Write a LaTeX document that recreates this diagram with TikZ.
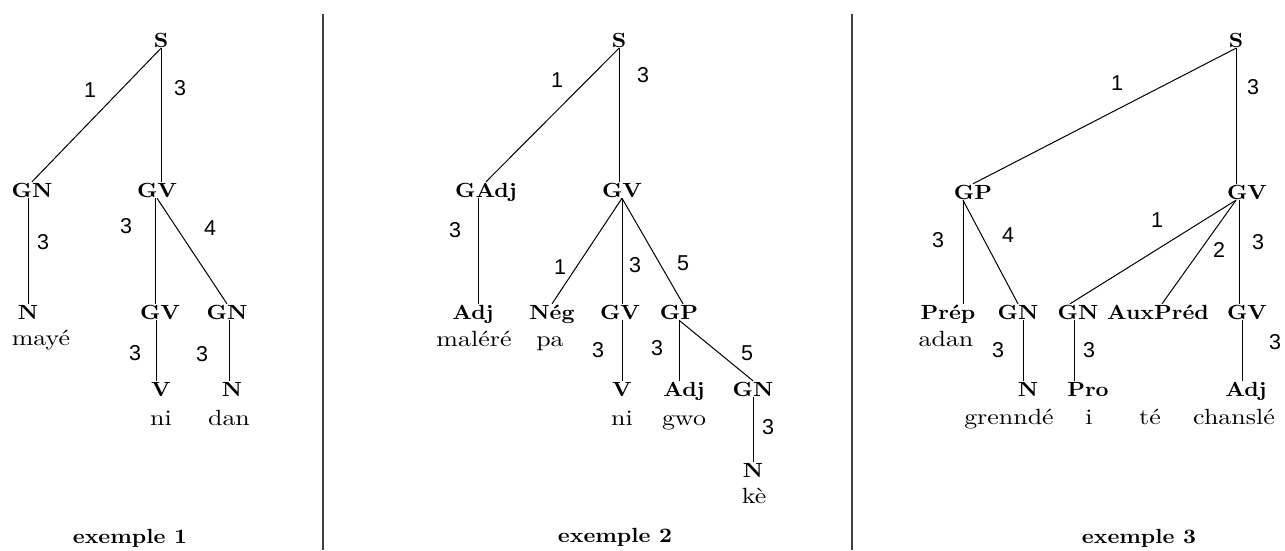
\documentclass[tikz,border=0pt]{standalone}
\usepackage{fontspec}
\newfontfamily\catfont[FakeStretch=1.1]{lmroman10-bold.otf}
\newfontfamily\wordfont[FakeStretch=1.18]{lmroman10-regular.otf}
\newfontfamily\numfont{Liberation Sans}
\usepackage{tikz}

\begin{document}
\begin{tikzpicture}[x=1pt, y=-1pt,
  cat/.style={font=\catfont\fontsize{20.5}{20.5}\selectfont, inner sep=1pt, text height=14pt, text depth=0pt},
  word/.style={font=\wordfont\fontsize{22}{22}\selectfont, inner sep=0pt, anchor=base},
  title/.style={font=\catfont\fontsize{20.5}{20.5}\selectfont, inner sep=0pt, anchor=base},
  num/.style={font=\numfont\fontsize{21.5}{21.5}\selectfont, inner sep=0pt},
  treeline/.style={black, line width=1pt},
  divider/.style={black!75, line width=1.6pt}]
\path[fill=white] (0,0) rectangle (1285,550);
\useasboundingbox (0,0) rectangle (1285,550);
\draw[divider] (323,14) -- (323,550);
\draw[divider] (852,14) -- (852,550);
\node[cat] (s1) at (161,40) {S};
\node[cat] (gn1) at (32,190) {GN};
\node[cat] (gv1) at (157,190) {GV};
\node[cat] (n1) at (28,312) {N};
\node[cat] (gv1b) at (160,312) {GV};
\node[cat] (gn1b) at (227,312) {GN};
\node[cat] (v1) at (161,389) {V};
\node[cat] (n1b) at (232,389) {N};
\node[word] (w1a) at (41,345) {mayé};
\node[word] (w1b) at (161,425) {ni};
\node[word] (w1c) at (229,425) {dan};
\node[title] (t1) at (130,543) {exemple 1};
\draw[treeline] (s1.south) -- (gn1.north);
\draw[treeline] (s1.south) -- (s1.south |- gv1.north);
\draw[treeline] (n1.north |- gn1.south) -- (n1.north);
\draw[treeline] ([xshift=-2pt]gv1.south) -- ([xshift=-2pt]gv1.south |- gv1b.north);
\draw[treeline] (gv1.south) -- (gn1b.north);
\draw[treeline] ([xshift=-4pt]gv1b.south) -- ([xshift=-4pt]gv1b.south |- v1.north);
\draw[treeline] ([xshift=2pt]gn1b.south) -- ([xshift=2pt]gn1b.south |- n1b.north);
\node[num] (l1a) at (90,90) {1};
\node[num] (l1b) at (180,88) {3};
\node[num] (l1c) at (43,242) {3};
\node[num] (l1d) at (126,226) {3};
\node[num] (l1e) at (210,228) {4};
\node[num] (l1f) at (135,353) {3};
\node[num] (l1g) at (202,354) {3};
\node[cat] (s2) at (619,40) {S};
\node[cat] (gadj2) at (486,190) {GAdj};
\node[cat] (gv2) at (622,190) {GV};
\node[cat] (adj2) at (473,312) {Adj};
\node[cat] (neg2) at (552,312) {Nég};
\node[cat] (gv2b) at (620,312) {GV};
\node[cat] (gp2) at (679,312) {GP};
\node[cat] (v2) at (622,389) {V};
\node[cat] (adj2b) at (684,389) {Adj};
\node[cat] (gn2) at (753,389) {GN};
\node[cat] (n2) at (753,470) {N};
\node[word] (w2a) at (474,346) {maléré};
\node[word] (w2b) at (550,346) {pa};
\node[word] (w2c) at (622,425) {ni};
\node[word] (w2d) at (684,425) {gwo};
\node[word] (w2e) at (754,503) {kè};
\node[title] (t2) at (615,542) {exemple 2};
\draw[treeline] (s2.south) -- (gadj2.north);
\draw[treeline] (s2.south) -- (s2.south |- gv2.north);
\draw[treeline] ([xshift=-8pt]gadj2.south) -- ([xshift=-8pt]gadj2.south |- adj2.north);
\draw[treeline] (gv2.south) -- (neg2.north);
\draw[treeline] (gv2.south) -- (gv2.south |- gv2b.north);
\draw[treeline] (gv2.south) -- ([xshift=4pt]gp2.north);
\draw[treeline] (v2.north |- gv2b.south) -- (v2.north);
\draw[treeline] (gp2.south) -- (gp2.south |- adj2b.north);
\draw[treeline] (gp2.south) -- (gn2.north);
\draw[treeline] (gn2.south) -- (gn2.south |- n2.north);
\node[num] (l2a) at (557,80) {1};
\node[num] (l2b) at (643,75) {3};
\node[num] (l2c) at (455,230) {3};
\node[num] (l2d) at (560,267) {1};
\node[num] (l2e) at (635,265) {3};
\node[num] (l2f) at (683,263) {5};
\node[num] (l2g) at (598,350) {3};
\node[num] (l2h) at (657,348) {3};
\node[num] (l2i) at (747,353) {5};
\node[num] (l2j) at (768,427) {3};
\node[cat] (s3) at (1236,40) {S};
\node[cat] (gp3) at (973,192) {GP};
\node[cat] (gv3) at (1247,192) {GV};
\node[cat] (prep3) at (948,312) {Prép};
\node[cat] (gn3) at (1018,312) {GN};
\node[cat] (gn3b) at (1078,312) {GN};
\node[cat] (aux3) at (1158,312) {AuxPréd};
\node[cat] (gv3b) at (1247,312) {GV};
\node[cat] (n3) at (1028,389) {N};
\node[cat] (pro3) at (1088,389) {Pro};
\node[cat] (adj3) at (1246,389) {Adj};
\node[word] (w3a) at (946,346) {adan};
\node[word] (w3b) at (1009,424) {grenndé};
\node[word] (w3c) at (1089,424) {i};
\node[word] (w3d) at (1150,424) {té};
\node[word] (w3e) at (1234,424) {chanslé};
\node[title] (t3) at (1139,543) {exemple 3};
\coordinate (gp3f) at ([xshift=-10pt]gp3.south);
\coordinate (gv3f) at ([xshift=-11pt]gv3.south);
\draw[treeline] (s3.south) -- (gp3.north);
\draw[treeline] (s3.south) -- (s3.south |- gv3.north);
\draw[treeline] (gp3f) -- (gp3f |- prep3.north);
\draw[treeline] (gp3f) -- (gn3.north);
\draw[treeline] ([xshift=5pt]gn3.south) -- ([xshift=-5pt]n3.north);
\draw[treeline] (gv3f) -- ([xshift=-8pt]gn3b.north);
\draw[treeline] (gv3f) -- ([xshift=4pt]aux3.north);
\draw[treeline] ([xshift=-8pt]gv3.south) -- ([xshift=-8pt]gv3b.north);
\draw[treeline] ([xshift=-4pt]gn3b.south) -- ([xshift=-14pt]pro3.north);
\draw[treeline] ([xshift=-5pt]gv3b.south) -- ([xshift=-4pt]adj3.north);
\node[num] (l3a) at (1117,83) {1};
\node[num] (l3b) at (1253,87) {3};
\node[num] (l3c) at (938,240) {3};
\node[num] (l3d) at (1008,235) {4};
\node[num] (l3e) at (1157,220) {1};
\node[num] (l3f) at (1219,250) {2};
\node[num] (l3g) at (1258,242) {3};
\node[num] (l3h) at (998,350) {3};
\node[num] (l3i) at (1089,350) {3};
\node[num] (l3j) at (1275,342) {3};
\end{tikzpicture}
\end{document}
